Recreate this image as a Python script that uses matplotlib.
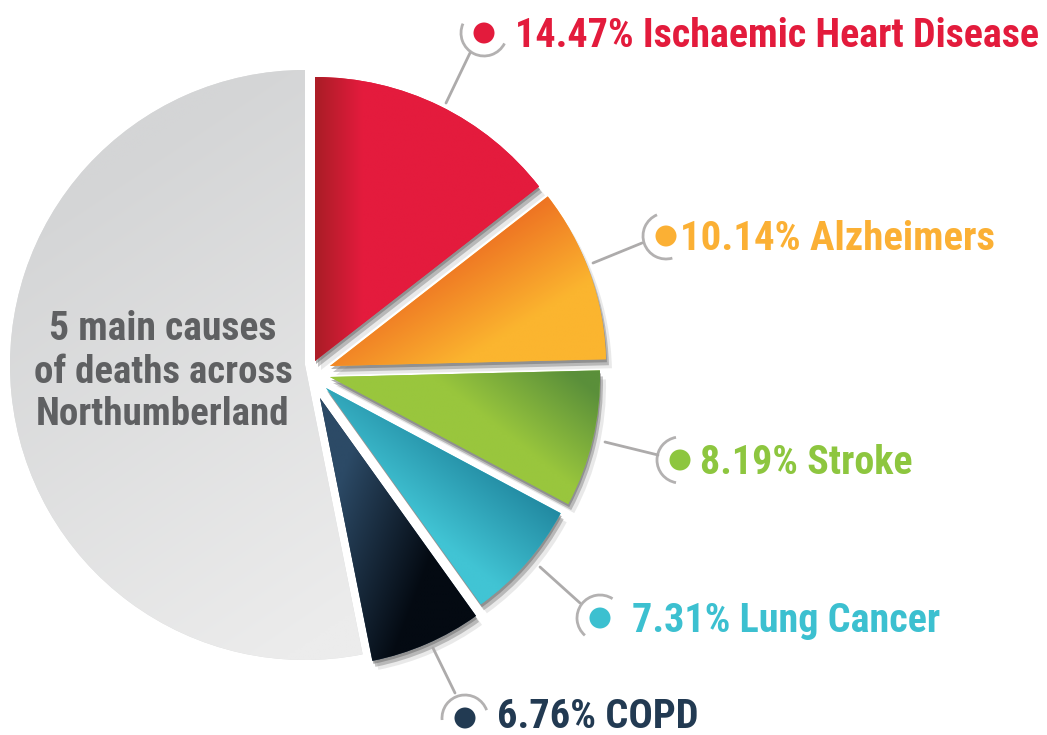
import numpy as np
import matplotlib.pyplot as plt
from matplotlib.patches import Wedge, Arc, Circle
import matplotlib.colors as mcolors
from matplotlib import font_manager as fm

# canvas in pixels, y measured from the top of the picture
W, H = 1047, 735

causes = ["Ischaemic Heart Disease", "Alzheimers", "Stroke", "Lung Cancer", "COPD"]
shares = [14.47, 10.14, 8.19, 7.31, 6.76]
other = round(100 - sum(shares), 2)
title_lines = ["5 main causes", "of deaths across", "Northumberland"]

colors = ["#e31b3c", "#fbb034", "#8dc63f", "#3cc0d0", "#223a52"]


def py(y):
    return H - y


# pick the narrowest bold face we have
fonts = fm.fontManager.ttflist
names = {f.name for f in fonts}
stretch = "normal"
if "Liberation Sans Narrow" in names:
    FONT = "Liberation Sans Narrow"
elif "Roboto Condensed" in names:
    FONT = "Roboto Condensed"
elif any(f.name == "DejaVu Sans" and "ondensed" in str(f.stretch) for f in fonts):
    FONT = "DejaVu Sans"
    stretch = "condensed"
elif "Roboto" in names:
    FONT = "Roboto"
else:
    FONT = "Liberation Sans"

fig = plt.figure(figsize=(W / 100, H / 100), dpi=100)
ax = fig.add_axes([0, 0, 1, 1])

wedges, _ = ax.pie(shares + [other], startangle=90, counterclock=False,
                   center=(305, py(365)), radius=295,
                   colors=colors + ["#dcdddd"],
                   wedgeprops=dict(linewidth=0))

# slices are pulled out a little, each with its own tip and radius
tips = [(315, 361), (330, 366), (330, 377), (326, 388), (320, 398)]
radii = [284, 276, 270, 266, 268]
for w, (tx, ty), r in zip(wedges[:5], tips, radii):
    w.set_center((tx, py(ty)))
    w.set_radius(r)

# gradient fills, clipped to the slices
gx, gy = np.meshgrid(np.linspace(0, W, 420), np.linspace(0, H, 300))
gy_px = H - gy
grads = [("#ad1d27", "#e41b3d", (318, 200), (362, 200)),
         ("#ee7423", "#fbb52f", (455, 255), (505, 335)),
         ("#5a8f3a", "#99c63d", (575, 375), (520, 445)),
         ("#1a7a94", "#41c4d4", (545, 470), (470, 565)),
         ("#2c4a66", "#040a12", (340, 480), (445, 520)),
         ("#d4d5d6", "#ececec", (60, 200), (340, 620))]


def grad_img(c0, c1, p0, p1):
    a = np.array(mcolors.to_rgb(c0))
    b = np.array(mcolors.to_rgb(c1))
    d = np.array(p1, float) - np.array(p0, float)
    t = ((gx - p0[0]) * d[0] + (gy_px - p0[1]) * d[1]) / (d ** 2).sum()
    t = np.clip(t, 0, 1)[..., None]
    return a * (1 - t) + b * t


for k, w in enumerate(wedges):
    c0, c1, p0, p1 = grads[k]
    w.set_zorder(2 + 2 * k if k < 5 else 1)
    im = ax.imshow(grad_img(c0, c1, p0, p1), extent=(0, W, 0, H),
                   origin="lower", zorder=w.get_zorder() + 0.5,
                   interpolation="bilinear")
    im.set_clip_path(w)

# soft shadows under the coloured slices
for k, w in enumerate(wedges[:5]):
    cx, cy = w.center
    for off, al in [((1, -3), 0.55), ((3, -6), 0.4), ((6, -9), 0.15)]:
        sh = Wedge((cx + off[0], cy + off[1]), w.r, w.theta1, w.theta2,
                   facecolor="#707070", edgecolor="none", alpha=al,
                   zorder=w.get_zorder() - 0.4)
        ax.add_patch(sh)

# labels with dots, arcs and leader lines
dots = [(484, 33), (666, 236), (680, 460), (600, 618), (465, 718)]
arcs = [(156, 333), (113, 286), (100, 260), (57, 229), (20, 185)]
leaders = [((470, 53), (446, 103)), ((642, 243), (593, 263)),
           ((658, 455), (605, 442)), ((580, 603), (540, 567)),
           ((455, 693), (433, 648))]
text_x = [515, 680, 700, 632, 497]
text_w = [525, 315, 212, 308, 201]
text_dy = [14, 14, 14, 14, 10]

labels = []
for k in range(5):
    dx, dy = dots[k]
    ax.add_patch(Circle((dx, py(dy)), 10.5, facecolor=colors[k],
                        edgecolor="none", zorder=20))
    ax.add_patch(Arc((dx, py(dy)), 46, 46, theta1=arcs[k][0], theta2=arcs[k][1],
                     color="#b3b1b1", lw=2, zorder=20))
    (x0, y0), (x1, y1) = leaders[k]
    ax.plot([x0, x1], [py(y0), py(y1)], color="#adabab", lw=2,
            solid_capstyle="round", zorder=20)
    t = ax.text(text_x[k], py(dy + text_dy[k]), f"{shares[k]:.2f}% {causes[k]}",
                color=colors[k], fontsize=31, fontweight="bold",
                family=FONT, fontstretch=stretch, ha="left", va="baseline",
                zorder=21)
    labels.append((t, text_w[k], 31))

title_w = [227, 258, 253]
for i, line in enumerate(title_lines):
    t = ax.text(163, py(340 + 42.5 * i), line, color="#5f6062", fontsize=29,
                fontweight="bold", family=FONT, fontstretch=stretch,
                ha="center", va="baseline", zorder=21)
    labels.append((t, title_w[i], 29))

# shrink text that comes out wider than in the reference
fig.canvas.draw()
r = fig.canvas.get_renderer()
for t, tw, fs in labels:
    bw = t.get_window_extent(r).width
    if bw > tw:
        t.set_fontsize(fs * tw / bw)

ax.set_xlim(0, W)
ax.set_ylim(0, H)
ax.set_aspect("equal")
ax.axis("off")
fig.savefig("out.png", dpi=100, facecolor="white")
